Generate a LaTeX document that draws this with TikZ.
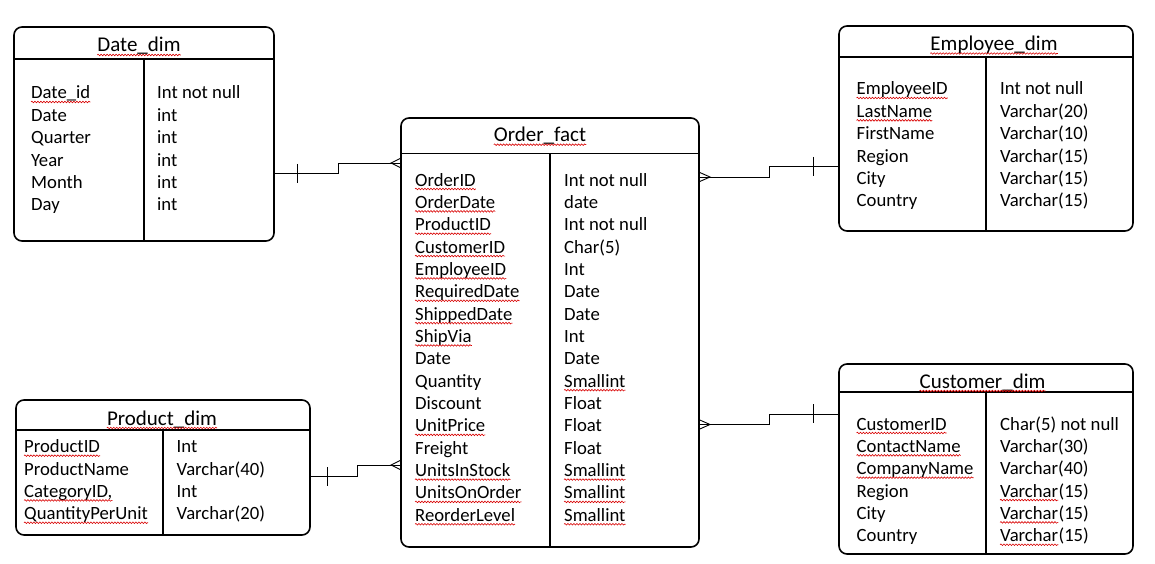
\documentclass[tikz,border=0pt]{standalone}
\usepackage{fontspec}
\setmainfont{Carlito}
\usetikzlibrary{fit,decorations.pathmorphing}
\tikzset{
  tbl/.style={draw, line width=1.6pt, rounded corners=8pt, inner sep=0pt, fill=white},
  tline/.style={line width=1.6pt},
  conn/.style={line width=0.9pt},
  fld/.style={anchor=base west, inner sep=0pt, font=\fontsize{18.7}{22}\selectfont},
  ttl/.style={anchor=base, inner sep=0pt, font=\fontsize{21}{25}\selectfont},
  squig/.style={draw=red!85!black, line width=0.6pt, decorate,
    decoration={snake, segment length=3pt, amplitude=0.8pt}},
}
\newcommand\sqline[1]{\draw[squig] ([yshift=-3pt]#1.base west) -- ([yshift=-3pt]#1.base east);}
\begin{document}
\begin{tikzpicture}[x=1pt,y=-1pt]
\useasboundingbox[fill=white] (0,0) rectangle (1155,564);

% ---------- Date_dim ----------
\node[tbl, fit={(14,27)(274,241)}] (date) {};
\draw[tline] (date.west |- 0,59) -- (date.east |- 0,59);
\draw[tline] (144,59) -- (144,0 |- date.south);
\node[ttl] (datet) at (139,52) {Date\_dim}; \sqline{datet}
\foreach \t/\s [count=\i from 0] in {Date\_id/1, Date/0, Quarter/0, Year/0, Month/0, Day/0}{
  \node[fld] (dl\i) at (31,99+\i*22.35) {\t};
  \ifnum\s=1 \sqline{dl\i}\fi
}
\foreach \t [count=\i from 0] in {Int not null, int, int, int, int, int}{
  \node[fld] (dr\i) at (157,99+\i*22.35) {\t};
}

% ---------- Order_fact ----------
\node[tbl, fit={(401,118)(699,547)}] (fact) {};
\draw[tline] (fact.west |- 0,153.5) -- (fact.east |- 0,153.5);
\draw[tline] (550,153.5) -- (550,0 |- fact.south);
\node[ttl] (factt) at (540,141.7) {Order\_fact}; \sqline{factt}
\foreach \t/\s [count=\i from 0] in {OrderID/1, OrderDate/1, ProductID/1, CustomerID/1, EmployeeID/1, RequiredDate/1, ShippedDate/1, ShipVia/1, Date/0, Quantity/0, Discount/0, UnitPrice/1, Freight/0, UnitsInStock/1, UnitsOnOrder/1, ReorderLevel/1}{
  \node[fld] (fl\i) at (415,186+\i*22.35) {\t};
  \ifnum\s=1 \sqline{fl\i}\fi
}
\foreach \t/\s [count=\i from 0] in {Int not null/0, date/0, Int not null/0, Char(5)/0, Int/0, Date/0, Date/0, Int/0, Date/0, Smallint/1, Float/0, Float/0, Float/0, Smallint/1, Smallint/1, Smallint/1}{
  \node[fld] (fr\i) at (564,186+\i*22.35) {\t};
  \ifnum\s=1 \sqline{fr\i}\fi
}

% ---------- Employee_dim ----------
\node[tbl, fit={(839,26)(1133,231)}] (emp) {};
\draw[tline] (emp.west |- 0,57) -- (emp.east |- 0,57);
\draw[tline] (986,57) -- (986,0 |- emp.south);
\node[ttl] (empt) at (994,50.5) {Employee\_dim}; \sqline{empt}
\foreach \t/\s [count=\i from 0] in {EmployeeID/1, LastName/1, FirstName/0, Region/0, City/0, Country/0}{
  \node[fld] (el\i) at (856.5,95+\i*22.35) {\t};
  \ifnum\s=1 \sqline{el\i}\fi
}
\foreach \t [count=\i from 0] in {Int not null, Varchar(20), Varchar(10), Varchar(15), Varchar(15), Varchar(15)}{
  \node[fld] (er\i) at (1000,95+\i*22.35) {\t};
}

% ---------- Customer_dim ----------
\node[tbl, fit={(839,364)(1133,554)}] (cust) {};
\draw[tline] (cust.west |- 0,392) -- (cust.east |- 0,392);
\draw[tline] (986,392) -- (986,0 |- cust.south);
\node[ttl] (custt) at (982.5,388) {Customer\_dim}; \sqline{custt}
\foreach \t/\s [count=\i from 0] in {CustomerID/1, ContactName/1, CompanyName/1, Region/0, City/0, Country/0}{
  \node[fld] (cl\i) at (856.5,430+\i*22.35) {\t};
  \ifnum\s=1 \sqline{cl\i}\fi
}
\node[fld] (cr0) at (1000,430) {Char(5) not null};
\node[fld] (cr1) at (1000,452.35) {Varchar(30)};
\node[fld] (cr2) at (1000,474.7) {Varchar(40)};
\foreach \i in {3,4,5}{
  \node[fld] (cr\i) at (1000,430+\i*22.35) {Varchar};
  \node[fld] (crb\i) at (cr\i.base east) {(15)};
  \sqline{cr\i}
}

% ---------- Product_dim ----------
\node[tbl, fit={(16,400)(310,535)}] (prod) {};
\draw[tline] (prod.west |- 0,430) -- (prod.east |- 0,430);
\draw[tline] (163,430) -- (163,0 |- prod.south);
\node[ttl] (prodt) at (162,425) {Product\_dim}; \sqline{prodt}
\foreach \t/\s [count=\i from 0] in {ProductID/1, ProductName/0, {CategoryID,}/1, QuantityPerUnit/1}{
  \node[fld] (pl\i) at (24,452.7+\i*22.35) {\t};
  \ifnum\s=1 \sqline{pl\i}\fi
}
\foreach \t [count=\i from 0] in {Int, Varchar(40), Int, Varchar(20)}{
  \node[fld] (pr\i) at (176.5,452.7+\i*22.35) {\t};
}

% ---------- connectors ----------
% Date_dim -- Order_fact
\draw[conn] (date.east |- 0,173) -- (338,173) -- (338,163) -- (fact.west |- 0,163);
\draw[conn] (297,164) -- (297,183);
\draw[conn] (fact.west |- 0,158.5) -- (391,163) -- (fact.west |- 0,167.5);
% Product_dim -- Order_fact
\draw[conn] (prod.east |- 0,476) -- (357,476) -- (357,465) -- (fact.west |- 0,465);
\draw[conn] (327,467) -- (327,486);
\draw[conn] (fact.west |- 0,460.5) -- (391,465) -- (fact.west |- 0,469.5);
% Order_fact -- Employee_dim
\draw[conn] (fact.east |- 0,177) -- (769,177) -- (769,166) -- (emp.west |- 0,166);
\draw[conn] (813,157) -- (813,176);
\draw[conn] (fact.east |- 0,172.5) -- (710,177) -- (fact.east |- 0,181.5);
% Order_fact -- Customer_dim
\draw[conn] (fact.east |- 0,424.5) -- (769,424.5) -- (769,414) -- (cust.west |- 0,414);
\draw[conn] (813,404) -- (813,423);
\draw[conn] (fact.east |- 0,420) -- (710,424.5) -- (fact.east |- 0,429);
\end{tikzpicture}
\end{document}
